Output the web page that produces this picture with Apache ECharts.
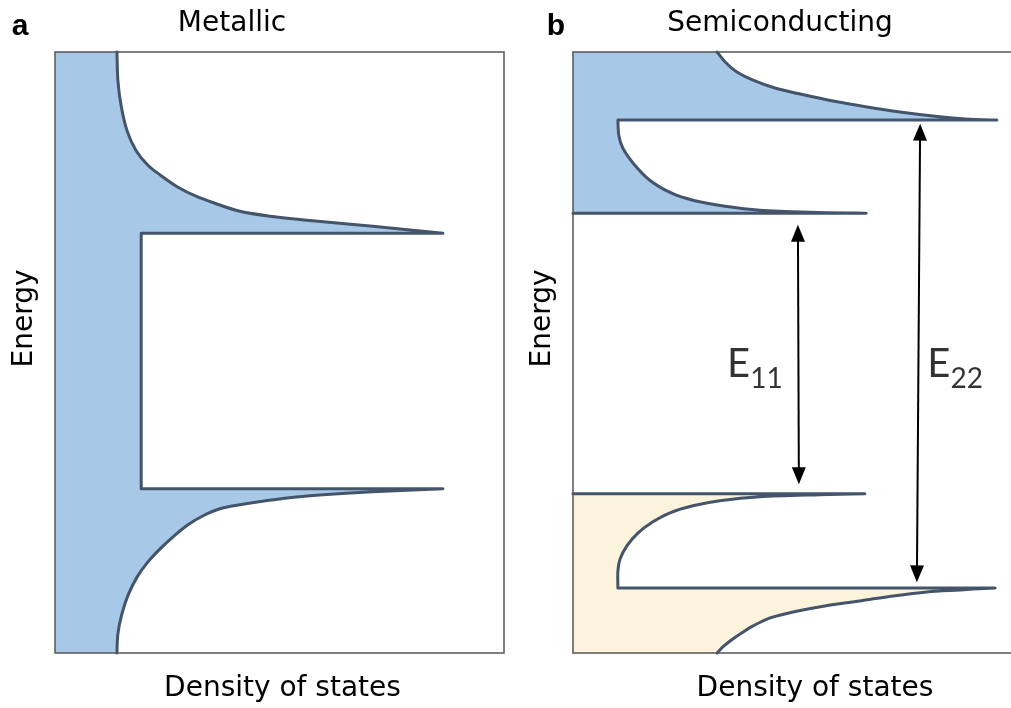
<!DOCTYPE html>
<html>
<head>
<meta charset="utf-8">
<script src="https://cdn.jsdelivr.net/npm/echarts@6/dist/echarts.min.js"></script>
<style>
  html, body { margin: 0; padding: 0; background: #ffffff; }
  #chart { width: 1011px; height: 708px; }
</style>
</head>
<body>
<div id="chart"></div>
<script>
// Density of states (arbitrary units, 0-100) versus energy (eV, -3 to 3)

// ---- Metallic tube ----
// upper van Hove singularity, read from the top of the panel down to the spike
const metalUpperEnergy = [3.00, 2.72, 2.47, 2.22, 2.02, 1.87, 1.76, 1.65, 1.56, 1.49, 1.41, 1.36, 1.32, 1.26, 1.19];
const metalUpperDos    = [13.8, 14.0, 14.7, 16.0, 18.0, 20.7, 23.8, 27.4, 31.4, 35.6, 41.2, 47.9, 56.1, 70.8, 86.4];
// constant DOS between the two singularities
const metalPlateauDos = 19.2;
// lower van Hove singularity, from the spike down to the bottom of the panel
const metalLowerEnergy = [-1.36, -1.39, -1.43, -1.47, -1.52, -1.56, -1.63, -1.72, -1.84, -1.96, -2.09, -2.24, -2.42, -2.61, -2.81, -3.00];
const metalLowerDos    = [86.4, 70.8, 56.8, 48.6, 41.2, 36.7, 33.0, 29.6, 26.3, 23.4, 20.7, 18.3, 16.3, 14.9, 14.0, 13.8];

// ---- Semiconducting tube ----
// conduction band: second singularity (c2)
const cbOuterEnergy = [3.00, 2.90, 2.80, 2.72, 2.64, 2.58, 2.51, 2.45, 2.40, 2.36, 2.33, 2.32];
const cbOuterDos    = [32.1, 33.9, 36.5, 40.1, 45.0, 50.6, 57.9, 65.5, 72.8, 80.2, 87.3, 94.4];
// conduction band: first singularity (c1)
const cbInnerEnergy = [2.32, 2.17, 2.04, 1.89, 1.72, 1.59, 1.52, 1.46, 1.42, 1.40, 1.39];
const cbInnerDos    = [10.0, 10.2, 11.1, 13.4, 17.1, 22.0, 26.7, 33.9, 41.6, 52.8, 65.3];
// valence band: first singularity (v1)
const vbInnerEnergy = [-1.41, -1.42, -1.44, -1.48, -1.53, -1.60, -1.69, -1.80, -1.93, -2.06, -2.18, -2.35];
const vbInnerDos    = [65.0, 55.0, 41.6, 32.7, 26.7, 21.6, 17.8, 14.5, 12.0, 10.5, 10.0, 10.0];
// valence band: second singularity (v2)
const vbOuterEnergy = [-2.35, -2.37, -2.39, -2.43, -2.48, -2.53, -2.59, -2.65, -2.73, -2.79, -2.86, -2.93, -3.00];
const vbOuterDos    = [94.0, 86.2, 78.8, 71.3, 63.9, 56.1, 49.0, 43.9, 40.1, 37.9, 35.6, 33.6, 32.1];

// optical transitions: energies where the arrow heads sit [upper, lower]
const e11Arrow = [1.19, -1.23];
const e22Arrow = [2.20, -2.21];

const E_MIN = -3, E_MAX = 3;
const DOS_MAX_RIGHT = 97.55;   // right panel runs off the page edge
const zip = (dos, en) => dos.map((d, i) => [d, en[i]]);
const last = a => a[a.length - 1];

// outlines as runs of smooth curves and straight edges
const metalOutline = [
  { smooth: true, pts: zip(metalUpperDos, metalUpperEnergy) },
  { smooth: false, pts: [[last(metalUpperDos), last(metalUpperEnergy)],
                         [metalPlateauDos, last(metalUpperEnergy)],
                         [metalPlateauDos, metalLowerEnergy[0]],
                         [metalLowerDos[0], metalLowerEnergy[0]]] },
  { smooth: true, pts: zip(metalLowerDos, metalLowerEnergy) }
];
const cbOutline = [
  { smooth: true, pts: zip(cbOuterDos, cbOuterEnergy) },
  { smooth: false, pts: [[last(cbOuterDos), last(cbOuterEnergy)], [cbInnerDos[0], cbInnerEnergy[0]]] },
  { smooth: true, pts: zip(cbInnerDos, cbInnerEnergy) },
  { smooth: false, pts: [[last(cbInnerDos), last(cbInnerEnergy)], [0, last(cbInnerEnergy)]] }
];
const vbOutline = [
  { smooth: false, pts: [[0, vbInnerEnergy[0]], [vbInnerDos[0], vbInnerEnergy[0]]] },
  { smooth: true, pts: zip(vbInnerDos, vbInnerEnergy) },
  { smooth: false, pts: [[last(vbInnerDos), last(vbInnerEnergy)], [vbOuterDos[0], vbOuterEnergy[0]]] },
  { smooth: true, pts: zip(vbOuterDos, vbOuterEnergy) }
];

const OUTLINE = '#44546a';
const BLUE = '#a8c8e8';
const CREAM = '#fcf3dc';
const FRAME = { color: '#555555', width: 1.5 };

// SVG path through the projected points (Catmull-Rom curves for smooth runs)
function runsToPath(runs, api, started) {
  let d = '';
  const f = v => v.toFixed(2);
  runs.forEach((run, ri) => {
    const p = run.pts.map(q => api.coord(q));
    if (!started && ri === 0) { d += 'M' + f(p[0][0]) + ' ' + f(p[0][1]); }
    else { d += 'L' + f(p[0][0]) + ' ' + f(p[0][1]); }
    for (let i = 0; i < p.length - 1; i++) {
      if (run.smooth) {
        const p0 = p[Math.max(i - 1, 0)], p1 = p[i], p2 = p[i + 1], p3 = p[Math.min(i + 2, p.length - 1)];
        const c1 = [p1[0] + (p2[0] - p0[0]) / 6, p1[1] + (p2[1] - p0[1]) / 6];
        const c2 = [p2[0] - (p3[0] - p1[0]) / 6, p2[1] - (p3[1] - p1[1]) / 6];
        d += 'C' + f(c1[0]) + ' ' + f(c1[1]) + ' ' + f(c2[0]) + ' ' + f(c2[1]) + ' ' + f(p2[0]) + ' ' + f(p2[1]);
      } else {
        d += 'L' + f(p[i + 1][0]) + ' ' + f(p[i + 1][1]);
      }
    }
  });
  return d;
}

// band: filled region between the DOS = 0 edge and its outline, plus the outline itself
function bandSeries(runs, gridIdx, topE, bottomE, color) {
  return {
    type: 'custom',
    xAxisIndex: gridIdx, yAxisIndex: gridIdx,
    silent: true, z: 2,
    data: [[0, 0]],
    renderItem: (params, api) => {
      let fillD = '';
      if (topE !== null) {
        const t = api.coord([0, topE]);
        fillD = 'M' + t[0] + ' ' + t[1] + runsToPath(runs, api, true);
      } else {
        fillD = runsToPath(runs, api, false);
      }
      if (bottomE !== null) {
        const b = api.coord([0, bottomE]);
        fillD += 'L' + b[0] + ' ' + b[1];
      }
      fillD += 'Z';
      return {
        type: 'group',
        children: [
          { type: 'path', shape: { pathData: fillD }, style: { fill: color, stroke: null } },
          { type: 'path', shape: { pathData: runsToPath(runs, api, false) },
            style: { fill: 'none', stroke: OUTLINE, lineWidth: 3, lineJoin: 'round', lineCap: 'round' } }
        ]
      };
    }
  };
}

const axisFont = { fontFamily: 'DejaVu Sans', fontSize: 28, color: '#000' };
const hidden = { axisTick: { show: false }, axisLabel: { show: false }, splitLine: { show: false } };
function xAxisFor(i, max, shift, frame) {
  return Object.assign({
    type: 'value', gridIndex: i, min: 0, max: max, position: 'bottom', z: 10,
    axisLine: { show: frame, onZero: false, lineStyle: FRAME },
    name: 'Density of states', nameLocation: 'middle', nameGap: 22,
    nameTextStyle: Object.assign({ padding: [0, 0, 0, shift] }, axisFont)
  }, hidden);
}
function yAxisFor(i, frame) {
  return Object.assign({
    type: 'value', gridIndex: i, min: E_MIN, max: E_MAX, position: 'left', z: 10,
    axisLine: { show: frame, onZero: false, lineStyle: FRAME },
    name: 'Energy', nameLocation: 'middle', nameGap: 16,
    nameTextStyle: Object.assign({ padding: [0, 0, 0, 68] }, axisFont)
  }, hidden);
}

const labelRich = {
  e: { fontFamily: 'Lato', fontSize: 40, color: '#000', verticalAlign: 'bottom', padding: [0, 0, 9, 0] },
  s: { fontFamily: 'Lato', fontSize: 28, color: '#000', verticalAlign: 'bottom' }
};
const titleStyle = (text, bold) => ({
  text: text, fill: '#000',
  fontFamily: bold ? 'Liberation Sans' : 'DejaVu Sans', fontWeight: bold ? 'bold' : 'normal', fontSize: bold ? 30 : 28,
  align: 'center', verticalAlign: 'middle', textAlign: 'center', textVerticalAlign: 'middle'
});

const option = {
  animation: false,
  backgroundColor: '#ffffff',
  grid: [
    // left panel: fully framed box
    { left: 55, top: 52, width: 449, height: 602, show: true, borderColor: FRAME.color, borderWidth: FRAME.width,
      backgroundColor: 'transparent', z: 10 },
    // right panel: open on the right, framed by its axis lines
    { left: 573, top: 52, width: 438, height: 602, show: false }
  ],
  xAxis: [
    xAxisFor(0, 100, 6, false),
    xAxisFor(1, DOS_MAX_RIGHT, 46, true),
    Object.assign({ type: 'value', gridIndex: 1, min: 0, max: DOS_MAX_RIGHT, position: 'top', z: 10,
      axisLine: { show: true, onZero: false, lineStyle: FRAME } }, hidden)
  ],
  yAxis: [yAxisFor(0, false), yAxisFor(1, true)],
  graphic: [
    { type: 'text', x: 20, y: 27, style: titleStyle('a', true) },
    { type: 'text', x: 232, y: 24, style: titleStyle('Metallic', false) },
    { type: 'text', x: 556, y: 27, style: titleStyle('b', true) },
    { type: 'text', x: 780, y: 24, style: titleStyle('Semiconducting', false) }
  ],
  series: [
    bandSeries(metalOutline, 0, E_MAX, E_MIN, BLUE),
    bandSeries(cbOutline, 1, E_MAX, null, BLUE),
    bandSeries(vbOutline, 1, null, E_MIN, CREAM),
    {
      // transition arrows between the singularities
      type: 'line', xAxisIndex: 1, yAxisIndex: 1, data: [], silent: true, z: 4,
      markLine: {
        silent: true, animation: false,
        symbol: ['triangle', 'triangle'], symbolSize: [14, 17],
        lineStyle: { color: '#000', width: 2, type: 'solid' },
        label: { show: false },
        emphasis: { disabled: true },
        data: [
          [{ coord: [50.1, e11Arrow[0]] }, { coord: [50.3, e11Arrow[1]] }],
          [{ coord: [77.3, e22Arrow[0]] }, { coord: [76.6, e22Arrow[1]] }]
        ]
      }
    },
    {
      // transition labels
      type: 'scatter', xAxisIndex: 1, yAxisIndex: 1, symbolSize: 0, silent: true, z: 5,
      data: [
        { value: [40.5, -0.16], label: { formatter: '{e|E}{s|11}' } },
        { value: [85.1, -0.16], label: { formatter: '{e|E}{s|22}' } }
      ],
      label: { show: true, position: 'inside', color: '#000', rich: labelRich }
    }
  ]
};

const chart = echarts.init(document.getElementById('chart'), null, { renderer: 'canvas' });
chart.setOption(option);
</script>
</body>
</html>
